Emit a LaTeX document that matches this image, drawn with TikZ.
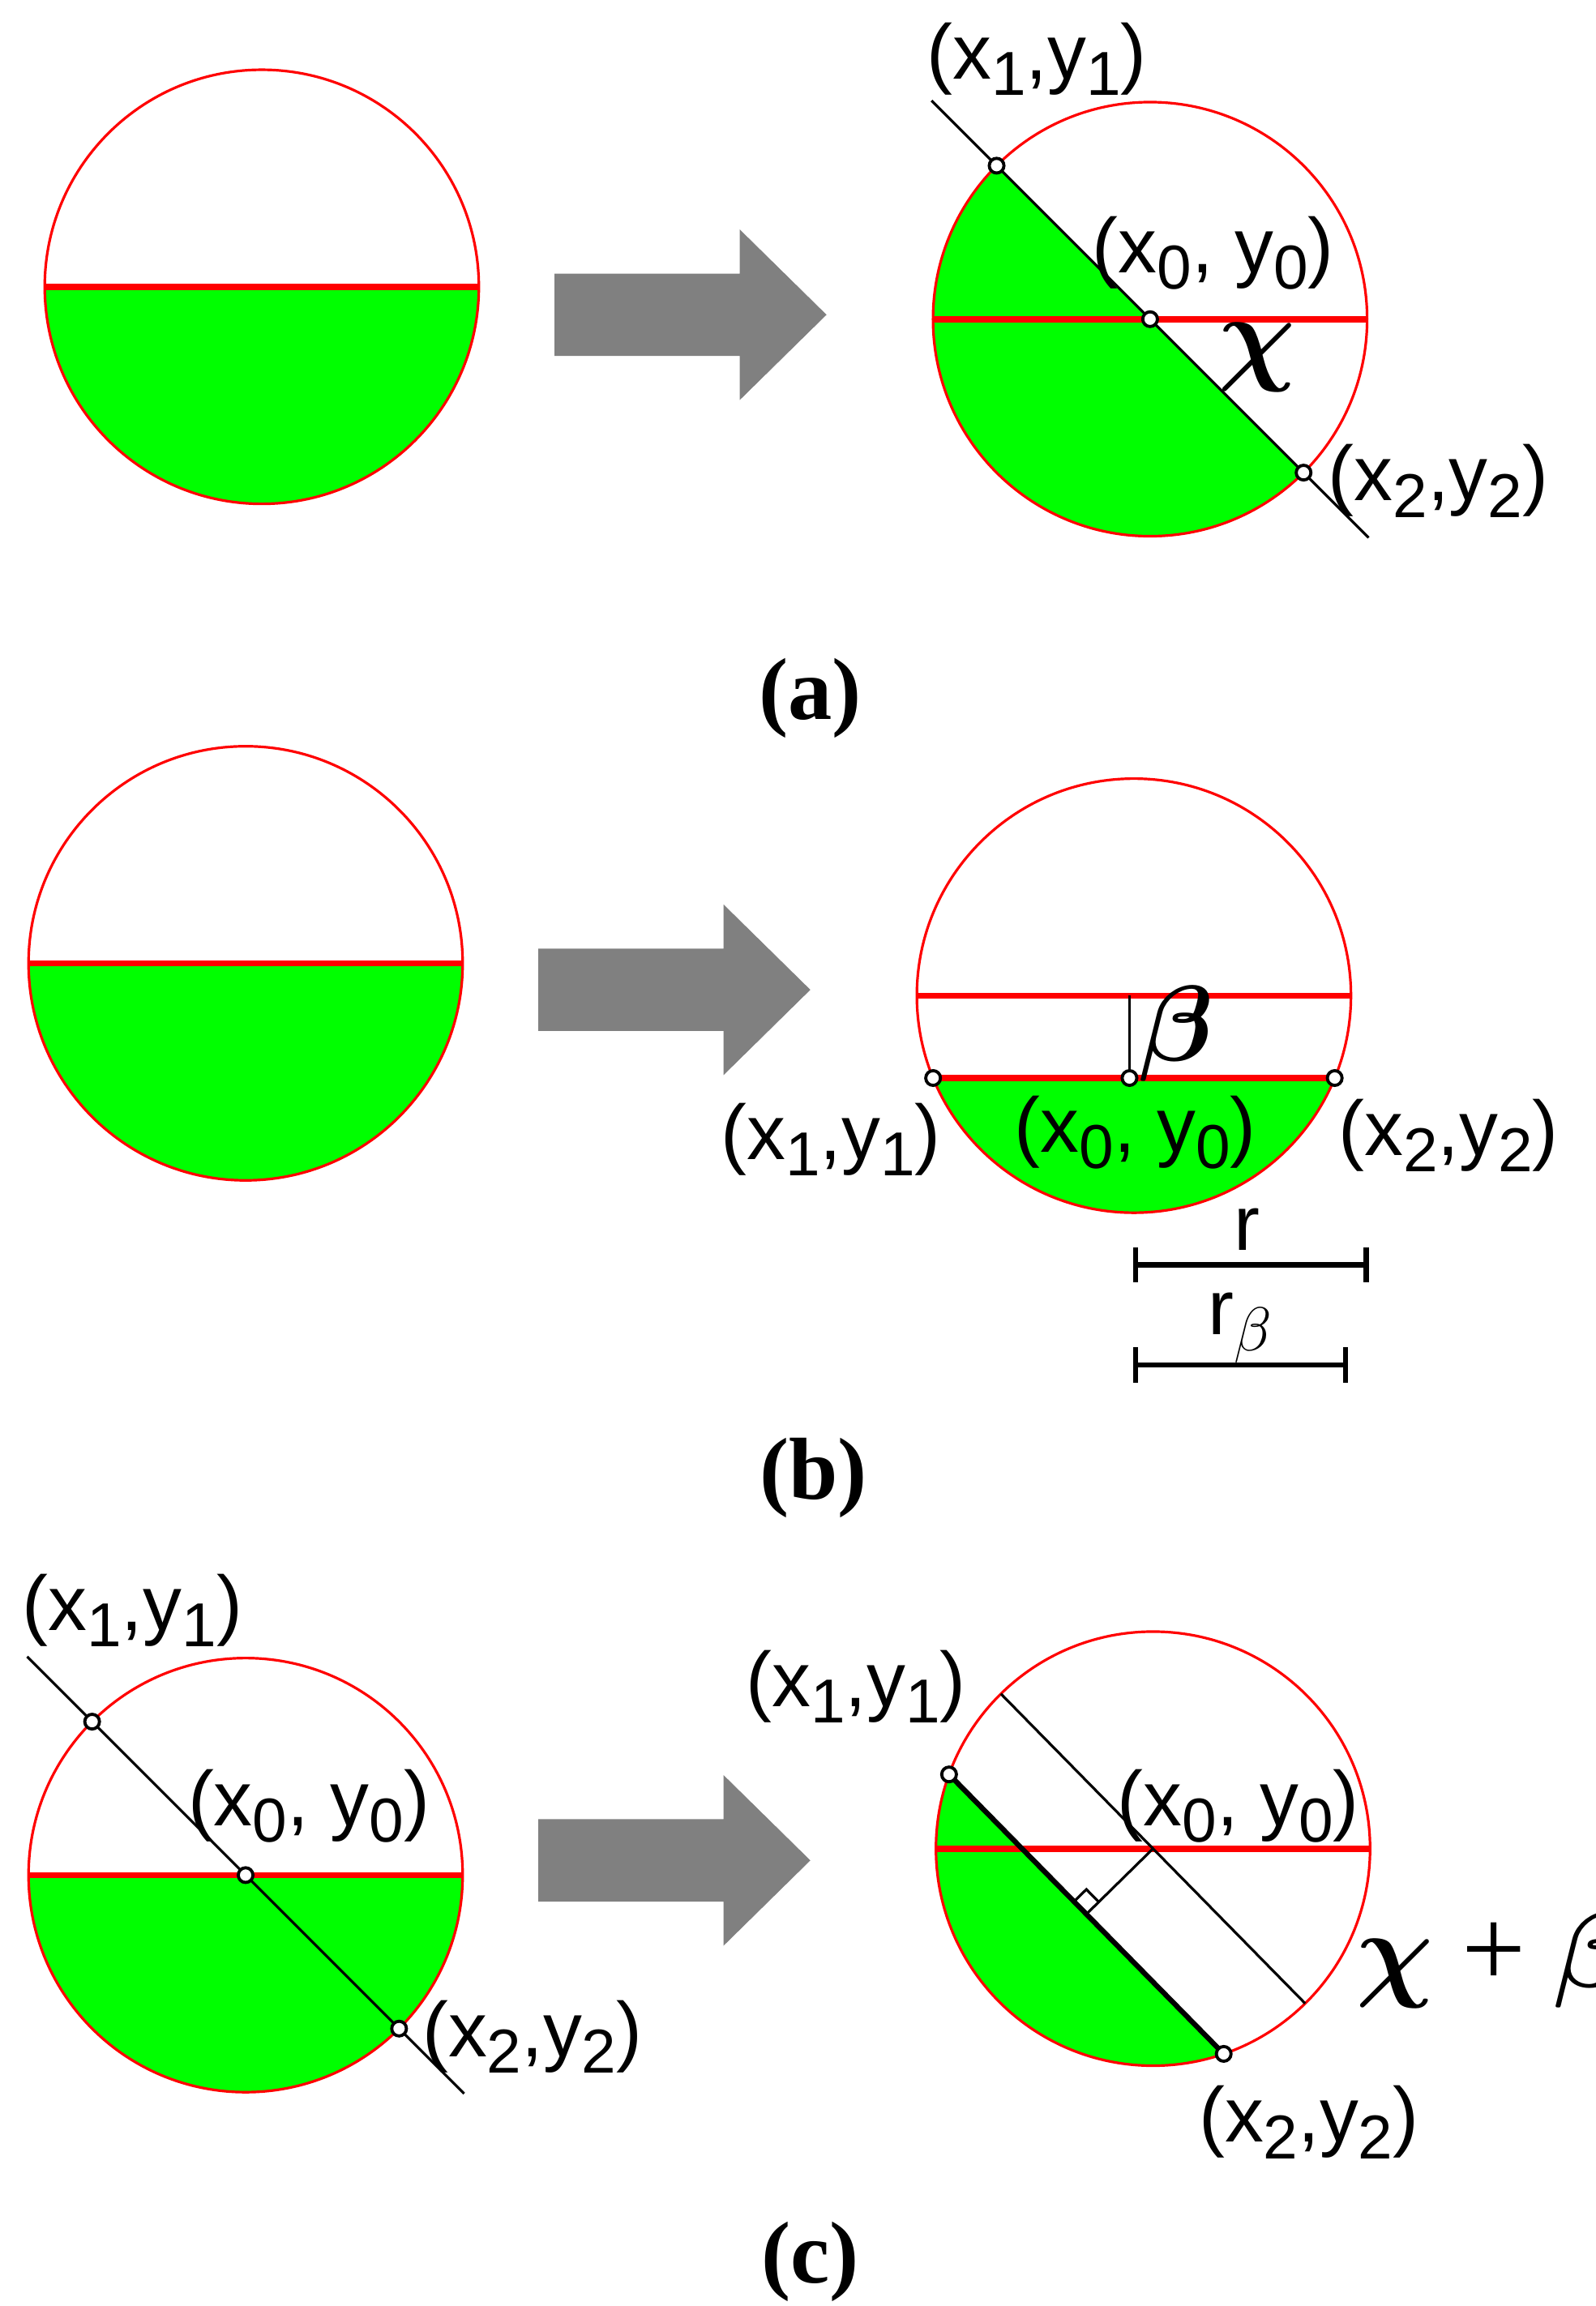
\documentclass[tikz,border=0pt]{standalone}
\usepackage{fontspec}
\setmainfont{Liberation Serif}
\newfontfamily\lab{Liberation Sans}
\usetikzlibrary{calc}
\definecolor{grn}{RGB}{0,255,0}
\definecolor{arr}{RGB}{128,128,128}
\tikzset{
  circ/.style={draw=red, line width=0.5pt},
  redl/.style={draw=red, line width=1.2pt},
  blk/.style={draw=black, line width=0.5pt},
  pt/.style={draw=black, fill=white, line width=0.6pt},
  lbl/.style={font=\lab\fontsize{15}{15}\selectfont, inner sep=0pt},
  captxt/.style={font=\bfseries\fontsize{17}{17}\selectfont, inner sep=0pt},
  greek/.style={font=\mathversion{bold}\fontsize{22}{22}\selectfont, inner sep=0pt},
  bigarrow/.style={fill=arr}
}
\newcommand{\sbs}[1]{\raisebox{-0.4ex}{\fontsize{12}{12}\selectfont #1}}
\newcommand{\mkarrow}[2]{%
  \fill[bigarrow] (#1,#2-28) -- (#1+126,#2-28) -- (#1+126,#2-58) -- (#1+185,#2) -- (#1+126,#2+58) -- (#1+126,#2+28) -- (#1,#2+28) -- cycle;}
\newcommand{\pmark}[1]{\draw[pt] (#1) circle (0.05cm);}
\begin{document}
\begin{tikzpicture}[x=0.01cm,y=-0.01cm]
\useasboundingbox (0,0) rectangle (1085,1568);
\def\R{1.475cm}
\def\Rn{1.475}
% ---------- (a)
\coordinate (a1) at (178,195);
\fill[grn] ($(a1)+(\R,0)$) arc (0:-180:\R) -- cycle;
\draw[circ] (a1) circle (\R);
\draw[redl] ($(a1)+(-\R,0)$) -- ($(a1)+(\R,0)$);
\mkarrow{377}{214}
\coordinate (a2) at (782,217);
\coordinate (a2p1) at ($(a2)+(135:\R)$);
\coordinate (a2p2) at ($(a2)+(315:\R)$);
\fill[grn] (a2p1) arc (135:315:\R) -- cycle;
\draw[circ] (a2) circle (\R);
\draw[redl] ($(a2)+(-\R,0)$) -- ($(a2)+(\R,0)$);
\draw[blk] ($(a2)+(135:2.1cm)$) -- ($(a2)+(315:2.1cm)$);
\pmark{a2p1}\pmark{a2p2}\pmark{a2}
\node[lbl] (la1) at (705,40) {(x\sbs{1},y\sbs{1})};
\node[lbl] (la0) at (825,172) {(x\sbs{0}, y\sbs{0})};
\node[greek] (lchi) at (855,243) {$\chi$};
\node[lbl] (la2) at (978,327) {(x\sbs{2},y\sbs{2})};
\node[captxt] (capa) at (551,475) {(a)};
% ---------- (b)
\coordinate (b1) at (167,655);
\fill[grn] ($(b1)+(\R,0)$) arc (0:-180:\R) -- cycle;
\draw[circ] (b1) circle (\R);
\draw[redl] ($(b1)+(-\R,0)$) -- ($(b1)+(\R,0)$);
\mkarrow{366}{673}
\coordinate (b2) at (771,677);
\pgfmathsetmacro{\ang}{asin(0.56/\Rn)}
\coordinate (b2p1) at ($(b2)+(180+\ang:\R)$);
\coordinate (b2p2) at ($(b2)+(-\ang:\R)$);
\coordinate (b2p0) at (768,733);
\fill[grn] (b2p1) arc (180+\ang:360-\ang:\R) -- cycle;
\draw[circ] (b2) circle (\R);
\draw[redl] ($(b2)+(-\R,0)$) -- ($(b2)+(\R,0)$);
\draw[redl] (b2p1) -- (b2p2);
\draw[blk] (768,677) -- (b2p0);
\pmark{b2p1}\pmark{b2p2}\pmark{b2p0}
\node[greek] (lbeta) at (800,703) {$\beta$};
\node[lbl] (lb1) at (565,775) {(x\sbs{1},y\sbs{1})};
\node[lbl] (lb0) at (772,770) {(x\sbs{0}, y\sbs{0})};
\node[lbl] (lb2) at (985,772) {(x\sbs{2},y\sbs{2})};
\draw[blk, line width=1pt] (772,860) -- (929,860) (772,848) -- (772,872) (929,848) -- (929,872);
\node[lbl] (lr) at (848,836) {r};
\draw[blk, line width=1pt] (772,928) -- (915,928) (772,916) -- (772,940) (915,916) -- (915,940);
\node[lbl] (lrb) at (843,903) {r\sbs{$\beta$}};
\node[captxt] (capb) at (553,1005) {(b)};
% ---------- (c)
\coordinate (c1) at (167,1275);
\fill[grn] ($(c1)+(\R,0)$) arc (0:-180:\R) -- cycle;
\draw[circ] (c1) circle (\R);
\draw[redl] ($(c1)+(-\R,0)$) -- ($(c1)+(\R,0)$);
\coordinate (c1p1) at ($(c1)+(135:\R)$);
\coordinate (c1p2) at ($(c1)+(315:\R)$);
\draw[blk] ($(c1)+(135:2.1cm)$) -- ($(c1)+(315:2.1cm)$);
\pmark{c1p1}\pmark{c1p2}\pmark{c1}
\node[lbl] (lc1) at (90,1095) {(x\sbs{1},y\sbs{1})};
\node[lbl] (lc0) at (210,1228) {(x\sbs{0}, y\sbs{0})};
\node[lbl] (lc2) at (362,1385) {(x\sbs{2},y\sbs{2})};
\mkarrow{366}{1265}
\coordinate (c2) at (784,1257);
\coordinate (c2p1) at ($(c2)+(160:\R)$);
\coordinate (c2p2) at ($(c2)+(289:\R)$);
\fill[grn] (c2p1) arc (160:289:\R) -- cycle;
\draw[circ] (c2) circle (\R);
\draw[redl] ($(c2)+(-\R,0)$) -- ($(c2)+(\R,0)$);
\draw[blk, line width=1pt] (c2p1) -- (c2p2);
\draw[blk] ($(c2)+(134.5:\R)$) -- ($(c2)+(314.5:\R)$);
\coordinate (F) at ($(c2)+(224.5:0.637cm)$);
\draw[blk] (c2) -- (F);
\draw[blk] ($(F)+(44.5:0.12cm)$) -- ++(134.5:0.12cm) -- ++(224.5:0.12cm);
\pmark{c2p1}\pmark{c2p2}
\node[lbl] (ld1) at (582,1147) {(x\sbs{1},y\sbs{1})};
\node[lbl] (ld0) at (842,1228) {(x\sbs{0}, y\sbs{0})};
\node[lbl] (ld2) at (890,1443) {(x\sbs{2},y\sbs{2})};
\node[greek] (lcb) at (1015,1333) {$\chi$ + $\beta$};
\node[captxt] (capc) at (551,1538) {(c)};
\end{tikzpicture}
\end{document}
